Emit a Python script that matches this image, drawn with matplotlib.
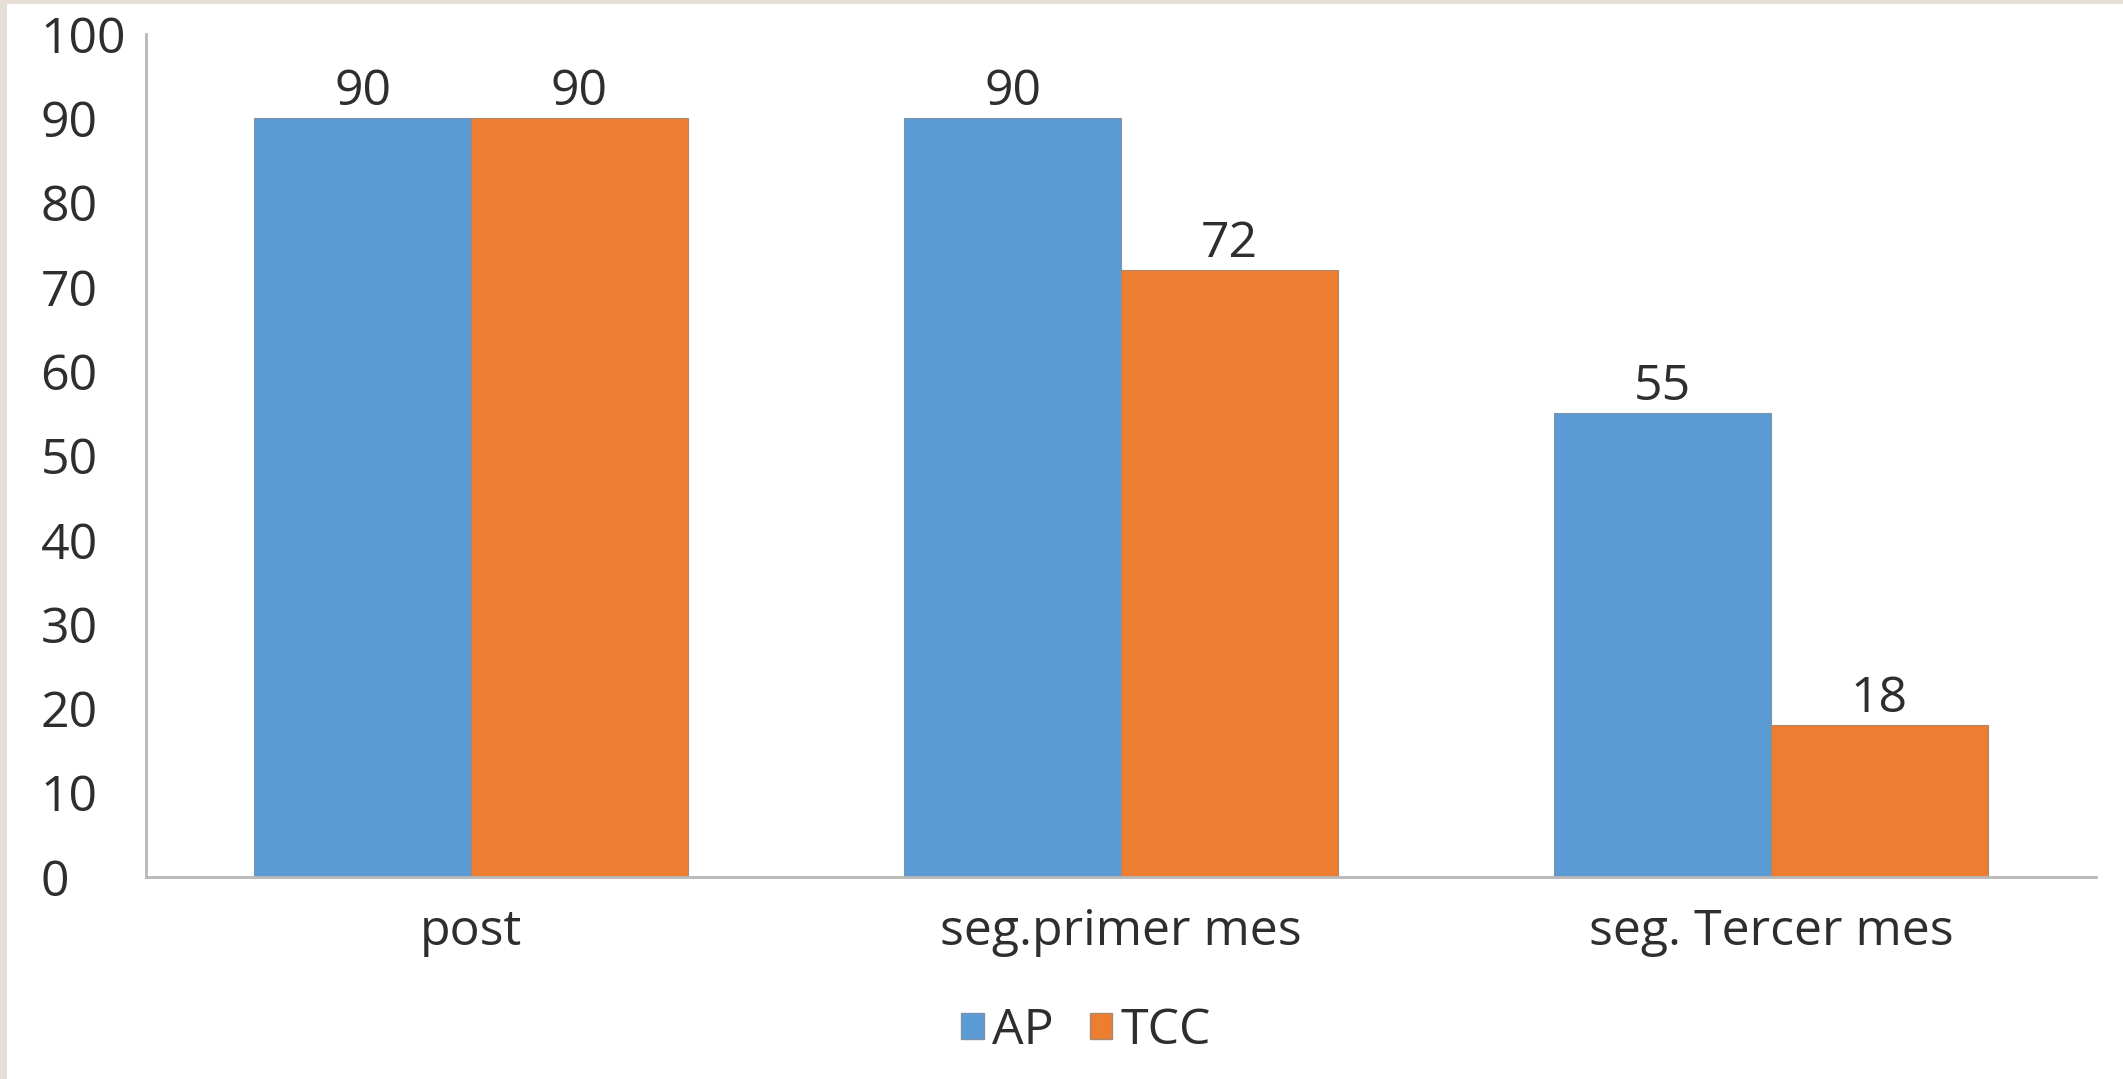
import matplotlib
matplotlib.use("Agg")
import matplotlib.pyplot as plt
from matplotlib.patches import Rectangle, Patch
import numpy as np

categories = ["post", "seg.primer mes", "seg. Tercer mes"]
series_names = ["AP", "TCC"]
ap_values = [90, 90, 55]
tcc_values = [90, 72, 18]
y_ticks = [0, 10, 20, 30, 40, 50, 60, 70, 80, 90, 100]

blue = "#5B9BD5"
orange = "#ED7D31"
text_color = "#2E2E2E"
axis_color = "#B8B8B8"
font = "Open Sans"
fs = 36

W, H = 2123, 1079
fig = plt.figure(figsize=(W / 100, H / 100), dpi=100)
fig.patch.set_facecolor("white")

# beige frame along the left and top edges
fig.patches.append(Rectangle((0, 0), 7 / W, 1, transform=fig.transFigure,
                             facecolor="#E4DED4", edgecolor="none", zorder=0))
fig.patches.append(Rectangle((0, 1 - 4 / H), 1, 4 / H, transform=fig.transFigure,
                             facecolor="#E4DED4", edgecolor="none", zorder=0))

ax = fig.add_axes([146 / W, 1 - 877 / H, 1950 / W, 843 / H])

x = np.arange(len(categories))
bw = 1 / 3
bars_ap = ax.bar(x - bw / 2, ap_values, bw, color=blue, edgecolor="#7f93a8",
                 linewidth=0.8, label=series_names[0], zorder=2)
bars_tcc = ax.bar(x + bw / 2, tcc_values, bw, color=orange, edgecolor="#a88a70",
                  linewidth=0.8, label=series_names[1], zorder=2)

for bars, vals in ((bars_ap, ap_values), (bars_tcc, tcc_values)):
    for b, v in zip(bars, vals):
        ax.annotate(f"{v}", (b.get_x() + b.get_width() / 2, v),
                    xytext=(0, 1), textcoords="offset pixels",
                    ha="center", va="bottom", fontsize=fs, family=font,
                    color=text_color)

ax.set_xlim(-0.5, 2.5)
ax.set_ylim(0, 100)
ax.set_yticks(y_ticks)
ax.set_xticks(x)
ax.set_xticklabels(categories)
ax.tick_params(axis="both", length=0, colors=text_color, labelsize=fs)
ax.tick_params(axis="y", pad=76)
ax.tick_params(axis="x", pad=22)
for lab in ax.get_xticklabels() + ax.get_yticklabels():
    lab.set_family(font)
for lab in ax.get_yticklabels():
    lab.set_horizontalalignment("left")

for s in ("top", "right"):
    ax.spines[s].set_visible(False)
for s in ("left", "bottom"):
    ax.spines[s].set_color(axis_color)
    ax.spines[s].set_linewidth(2)

handles = [Patch(facecolor=blue, edgecolor="#7f93a8"),
           Patch(facecolor=orange, edgecolor="#a88a70")]
fig.legend(handles, series_names, loc="center", bbox_to_anchor=(1086 / W, 1 - 1031 / H),
           ncol=2, frameon=False, handlelength=0.45, handleheight=0.45,
           handletextpad=0.16, columnspacing=0.72, prop={"family": font, "size": fs},
           labelcolor=text_color)

fig.savefig("out.png", dpi=100, facecolor="white")
